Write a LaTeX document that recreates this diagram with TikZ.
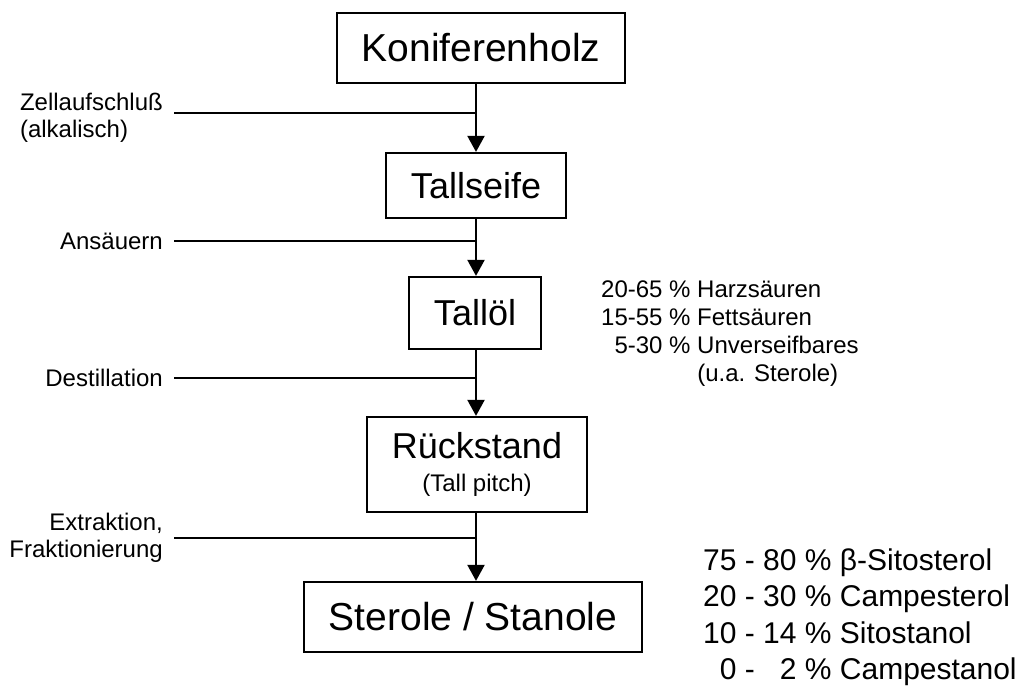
\documentclass[tikz,border=0pt]{standalone}
\usepackage{fontspec}
\setmainfont{Liberation Sans}
\usetikzlibrary{arrows.meta,positioning}
\begin{document}
\begin{tikzpicture}[x=1pt,y=-1pt,
  stufe/.style={draw,line width=2.2pt,inner xsep=25pt,inner ysep=0pt,font=\fontsize{36}{40}\selectfont},
  gross/.style={stufe,font=\fontsize{39}{44}\selectfont},
  lbl/.style={inner sep=0pt,font=\fontsize{24}{27}\selectfont},
  pfeil/.style={line width=2pt,-{Triangle[length=16pt,width=17pt]}},
  zufuhr/.style={line width=2pt}]
\useasboundingbox (0,0) rectangle (1023,687);
\node[gross,minimum height=70pt] (holz) at (481,48) {Koniferenholz};
\node[stufe,minimum height=65pt] (seife) at (476,185.5) {Tallseife};
\node[stufe,minimum height=72pt] (oel) at (475,313) {Tallöl};
\node[stufe,minimum height=95pt,align=center,font=\fontsize{36}{33}\selectfont] (rest) at (477,464.5) {Rückstand\\{\fontsize{24}{33}\selectfont (Tall pitch)}};
\node[gross,minimum height=70pt] (sterole) at (473,617) {Sterole / Stanole};
\draw[pfeil] (holz.south -| seife.north) -- (seife.north);
\draw[pfeil] (seife.south) -- (oel.north -| seife.south);
\draw[pfeil] (oel.south -| seife.south) -- (rest.north -| seife.south);
\draw[pfeil] (rest.south -| seife.south) -- (sterole.north -| seife.south);
\coordinate (z1) at (174,113);
\coordinate (z2) at (174,241);
\coordinate (z3) at (174,378);
\coordinate (z4) at (174,538);
\node[lbl,align=left,left=11pt of z1,yshift=-5pt] (aufschluss) {Zellaufschluß\\(alkalisch)};
\node[lbl,left=11pt of z2] (ansaeuern) {Ansäuern};
\node[lbl,left=11pt of z3] (destillation) {Destillation};
\node[lbl,align=right,left=11pt of z4] (extraktion) {Extraktion,\\Fraktionierung};
\draw[zufuhr] (z1) -- (z1 -| seife.north);
\draw[zufuhr] (z2) -- (z2 -| seife.north);
\draw[zufuhr] (z3) -- (z3 -| seife.north);
\draw[zufuhr] (z4) -- (z4 -| seife.north);
\node[inner sep=0pt,anchor=north west,font=\fontsize{24}{28}\selectfont] (talloel) at (601,277.5) {\begin{tabular}{@{}r@{\ }c@{\ }l@{}}
20-65 & \% & Harzsäuren\\
15-55 & \% & Fettsäuren\\
5-30 & \% & Unverseifbares\\
 & & (u.a. Sterole)
\end{tabular}};
\node[inner sep=0pt,anchor=north west,font=\fontsize{30}{36.5}\selectfont] (anteile) at (703,544.5) {\begin{tabular}{@{}r@{\ -\ }r@{\ \%\ }l@{}}
75 & 80 & β-Sitosterol\\
20 & 30 & Campesterol\\
10 & 14 & Sitostanol\\
0 & 2 & Campestanol
\end{tabular}};
\end{tikzpicture}
\end{document}
